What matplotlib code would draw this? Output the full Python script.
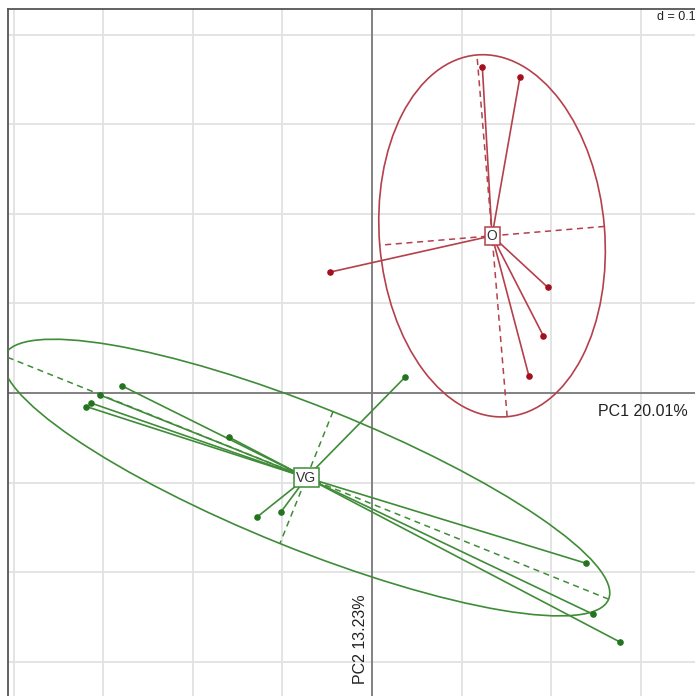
import numpy as np
import matplotlib.pyplot as plt
from matplotlib.patches import Ellipse

plt.rcParams['font.family'] = ['Liberation Sans', 'DejaVu Sans']

# PCA scores per group (PC1, PC2)
o_pc1 = [0.123, 0.165, -0.047, 0.196, 0.191, 0.175]
o_pc2 = [0.364, 0.353, 0.135, 0.118, 0.064, 0.019]

vg_pc1 = [0.037, -0.279, -0.304, -0.314, -0.319, -0.160, -0.102, -0.128, 0.239, 0.247, 0.277]
vg_pc2 = [0.018, 0.008, -0.002, -0.011, -0.015, -0.049, -0.133, -0.138, -0.190, -0.247, -0.278]

groups = ['O', 'VG']
line_cols = ['#b5404c', '#3f8c38']
point_cols = ['#a3101d', '#23731f']
pc1_label = 'PC1 20.01%'
pc2_label = 'PC2 13.23%'
cellipse = 1.5

fig = plt.figure(figsize=(6.95, 6.96), dpi=100)
ax = fig.add_axes([8 / 695, -0.02, 1 - 8 / 695 + 0.02, 1 - 9 / 696 + 0.02])
ax.set_xlim(-0.4063, 0.3605 + 0.02 * 0.766)
ax.set_ylim(-0.3382 - 0.02 * 0.767, 0.4286)
ax.set_facecolor('white')

# grid every d = 0.1
for g in np.arange(-0.4, 0.41, 0.1):
    ax.axvline(g, color='#e2e2e2', lw=1.3, zorder=0)
    ax.axhline(g, color='#e2e2e2', lw=1.3, zorder=0)
ax.axvline(0, color='#7a7a7a', lw=1.3, zorder=1)
ax.axhline(0, color='#7a7a7a', lw=1.3, zorder=1)

for s in ['right', 'bottom']:
    ax.spines[s].set_visible(False)
for s in ['left', 'top']:
    ax.spines[s].set_color('#555555')
    ax.spines[s].set_linewidth(1.3)
ax.set_xticks([])
ax.set_yticks([])

data = [(o_pc1, o_pc2), (vg_pc1, vg_pc2)]
for name, (x, y), lc, pc in zip(groups, data, line_cols, point_cols):
    x = np.array(x)
    y = np.array(y)
    cx, cy = x.mean(), y.mean()
    # star from centroid
    for xi, yi in zip(x, y):
        ax.plot([cx, xi], [cy, yi], color=lc, lw=1.2, zorder=3)
    ax.scatter(x, y, s=14, color=pc, zorder=4)
    # inertia ellipse
    cov = np.cov(np.vstack([x, y]), bias=True)
    vals, vecs = np.linalg.eigh(cov)
    radii = cellipse * np.sqrt(vals)
    angle = np.degrees(np.arctan2(vecs[1, 1], vecs[0, 1]))
    ax.add_patch(Ellipse((cx, cy), 2 * radii[1], 2 * radii[0], angle=angle,
                         fill=False, ec=lc, lw=1.2, zorder=3))
    for k in range(2):
        v = vecs[:, k] * radii[k]
        ax.plot([cx - v[0], cx + v[0]], [cy - v[1], cy + v[1]],
                color=lc, lw=1.1, ls=(0, (4, 3)), zorder=3)
    ax.text(cx, cy, name, ha='center', va='center', fontsize=10, color='#333333',
            zorder=5, bbox=dict(boxstyle='square,pad=0.15', fc='white', ec=lc, lw=1.1))

ax.text(0.361, 0.4195, 'd = 0.1', ha='right', va='center', fontsize=9,
        color='#222222', zorder=2,
        bbox=dict(boxstyle='square,pad=0.15', fc='white', ec='none'))
ax.text(0.352, -0.020, pc1_label, ha='right', va='center', fontsize=11.5,
        color='#222222', zorder=6)
ax.text(-0.0135, -0.325, pc2_label, ha='center', va='bottom', rotation=90,
        fontsize=11.5, color='#222222', zorder=6)

fig.savefig('out.png', dpi=100)
